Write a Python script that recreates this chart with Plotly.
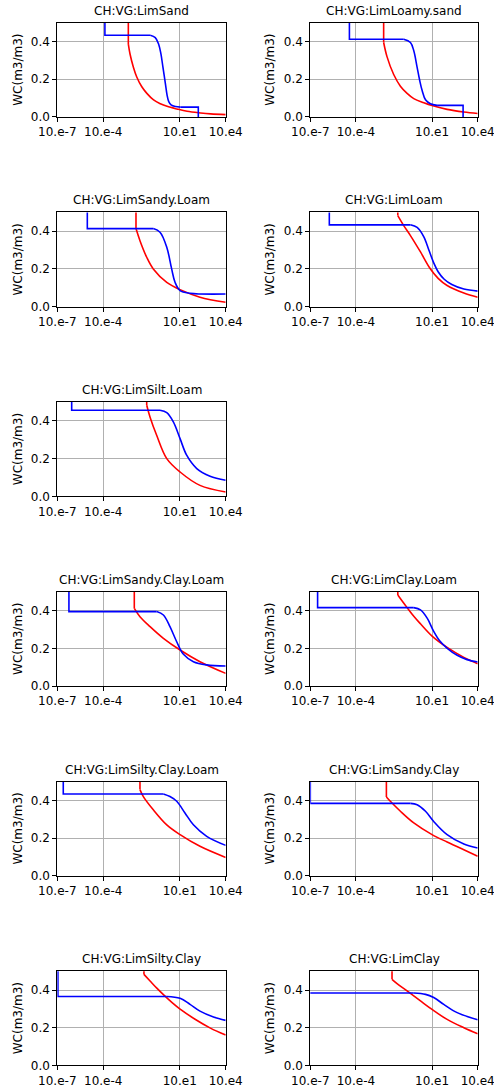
import plotly.graph_objects as go

# ---------------- data ----------------
titles = ["CH:VG:LimSand", "CH:VG:LimLoamy.sand", "CH:VG:LimSandy.Loam", "CH:VG:LimLoam",
          "CH:VG:LimSilt.Loam", "CH:VG:LimSandy.Clay.Loam", "CH:VG:LimClay.Loam",
          "CH:VG:LimSilty.Clay.Loam", "CH:VG:LimSandy.Clay", "CH:VG:LimSilty.Clay", "CH:VG:LimClay"]

x_tick_exp = [-7, -4, 1, 4]
x_tick_text = ["10.e-7", "10.e-4", "10.e1", "10.e4"]
y_tick_vals = [0.0, 0.2, 0.4]
y_tick_text = ["0.0", "0.2", "0.4"]

# value where the vertical start lines come from (above the visible range)
off_top = 0.6

# blue curve: vertical step (log10 h), saturated level, then smooth part
blue_step = [-3.89, -4.43, -5.04, -5.75, -6.06, -6.24, -6.52, -6.61, -7.0, -6.96, -7.5]
blue_sat = [0.433, 0.412, 0.414, 0.434, 0.457, 0.395, 0.416, 0.434, 0.384, 0.366, 0.384]
blue_e = [
    [-0.93, -0.6, -0.38, -0.23, -0.1, 0.06, 0.17, 0.28, 0.43, 0.71, 1.04],
    [-0.86, -0.42, -0.2, 0.02, 0.19, 0.35, 0.57, 0.89, 1.33],
    [-0.73, -0.29, 0.15, 0.47, 0.69, 1.02, 1.67, 4.0],
    [-0.42, 0.02, 0.46, 0.79, 1.11, 1.4, 1.8, 2.3, 3.09, 4.0],
    [-0.29, 0.15, 0.58, 1.02, 1.45, 2.11, 2.98, 4.0],
    [-0.51, -0.07, 0.36, 0.8, 1.24, 1.89, 2.76, 4.0],
    [-0.2, 0.24, 0.68, 1.11, 1.5, 2.0, 2.65, 3.3, 4.0],
    [-0.07, 0.36, 0.8, 1.34, 1.89, 2.76, 4.0],
    [-0.42, 0.02, 0.57, 1.11, 1.99, 3.09, 4.0],
    [0.15, 1.02, 1.67, 2.32, 3.2, 4.0],
    [-0.2, 0.57, 1.11, 1.77, 2.65, 4.0],
]
blue_wc = [
    [0.433, 0.421, 0.386, 0.334, 0.264, 0.177, 0.116, 0.081, 0.064, 0.055, 0.052],
    [0.412, 0.395, 0.351, 0.263, 0.193, 0.14, 0.091, 0.07, 0.061],
    [0.414, 0.395, 0.315, 0.2, 0.129, 0.085, 0.071, 0.067],
    [0.434, 0.42, 0.37, 0.3, 0.232, 0.185, 0.145, 0.117, 0.093, 0.082],
    [0.457, 0.444, 0.395, 0.306, 0.218, 0.147, 0.106, 0.085],
    [0.395, 0.377, 0.315, 0.235, 0.168, 0.129, 0.112, 0.106],
    [0.416, 0.404, 0.36, 0.29, 0.24, 0.2, 0.163, 0.14, 0.127],
    [0.434, 0.42, 0.395, 0.333, 0.27, 0.209, 0.161],
    [0.384, 0.377, 0.342, 0.288, 0.218, 0.168, 0.147],
    [0.366, 0.356, 0.324, 0.288, 0.257, 0.239],
    [0.384, 0.377, 0.36, 0.324, 0.28, 0.242],
]
blue_tail_e = [[1.04, 2.21, 2.21], [1.33, 3.04, 3.04], None, None, None, None, None, None, None, None, None]
blue_tail_wc = [[0.052, 0.052, 0.0], [0.061, 0.061, 0.0], None, None, None, None, None, None, None, None, None]

# red curve: vertical step (log10 h), then smooth part
red_step = [-2.36, -2.18, -1.86, -1.25, -1.16, -1.97, -1.25, -1.6, -2.0, -1.34, -1.63]
red_e = [
    [-2.36, -2.25, -2.03, -1.81, -1.48, -1.15, -0.71, -0.27, 0.17, 0.82, 1.48, 2.36, 3.02, 4.0],
    [-2.18, -1.96, -1.52, -1.08, -0.64, -0.2, 0.46, 1.0, 1.99, 3.09, 4.0],
    [-1.86, -1.6, -1.16, -0.73, 0.15, 1.02, 2.32, 4.0],
    [-1.25, -0.86, -0.42, 0.24, 0.85, 1.4, 1.99, 3.09, 4.0],
    [-1.16, -0.94, -0.51, 0.15, 1.02, 2.32, 4.0],
    [-1.97, -1.6, -0.94, -0.07, 1.02, 2.32, 4.0],
    [-1.25, -1.0, -0.64, -0.2, 0.24, 1.0, 1.99, 3.09, 4.0],
    [-1.6, -1.38, -0.73, 0.15, 1.02, 2.32, 4.0],
    [-2.0, -1.74, -1.08, -0.2, 1.0, 1.99, 3.09, 4.0],
    [-1.34, -0.94, -0.5, 0.0, 0.5, 1.0, 2.0, 3.0, 4.0],
    [-1.63, -1.3, -0.64, 0.24, 1.0, 1.99, 3.09, 4.0],
]
red_wc = [
    [0.386, 0.334, 0.264, 0.212, 0.16, 0.125, 0.09, 0.07, 0.056, 0.042, 0.03, 0.021, 0.016, 0.012],
    [0.395, 0.32, 0.225, 0.163, 0.125, 0.097, 0.075, 0.06, 0.04, 0.026, 0.018],
    [0.414, 0.35, 0.262, 0.2, 0.129, 0.09, 0.05, 0.023],
    [0.483, 0.43, 0.377, 0.29, 0.205, 0.15, 0.112, 0.072, 0.05],
    [0.483, 0.42, 0.324, 0.2, 0.129, 0.058, 0.023],
    [0.412, 0.368, 0.315, 0.253, 0.191, 0.129, 0.067],
    [0.483, 0.455, 0.416, 0.37, 0.33, 0.265, 0.205, 0.152, 0.118],
    [0.457, 0.42, 0.35, 0.27, 0.218, 0.156, 0.097],
    [0.418, 0.395, 0.342, 0.28, 0.218, 0.179, 0.138, 0.103],
    [0.483, 0.448, 0.41, 0.37, 0.333, 0.30, 0.245, 0.198, 0.161],
    [0.457, 0.434, 0.395, 0.342, 0.297, 0.244, 0.2, 0.168],
]

# ---------------- layout geometry (pixels) ----------------
W, H = 494, 1089
slots = [(0, 0), (0, 1), (1, 0), (1, 1), (2, 0), (3, 0), (3, 1), (4, 0), (4, 1), (5, 0), (5, 1)]
col_x = [(57.3, 225.7), (310.3, 477.7)]
ylab_x = [18, 270]
row_top0, row_pitch, plot_h = 22.7, 189.7, 94.2

FONT = "DejaVu Sans"
fig = go.Figure()
annotations = []
layout = {}


def p10(vals):
    return [10 ** v for v in vals]


for i, (r, c) in enumerate(slots):
    n = "" if i == 0 else str(i + 1)
    xa, ya = "x" + n, "y" + n
    top = row_top0 + r * row_pitch
    bot = top + plot_h
    x0, x1 = col_x[c]
    ydom = [1 - bot / H, 1 - top / H]
    xdom = [x0 / W, x1 / W]

    # red
    fig.add_trace(go.Scatter(x=p10([red_step[i], red_step[i]]), y=[off_top, red_wc[i][0]],
                             xaxis=xa, yaxis=ya, mode="lines",
                             line=dict(color="red", width=1.6), showlegend=False, hoverinfo="skip"))
    fig.add_trace(go.Scatter(x=p10(red_e[i]), y=red_wc[i], xaxis=xa, yaxis=ya, mode="lines",
                             line=dict(color="red", width=1.6, shape="spline", smoothing=1.0),
                             showlegend=False, hoverinfo="skip"))
    # blue
    fig.add_trace(go.Scatter(x=p10([blue_step[i], blue_step[i], blue_e[i][0]]),
                             y=[off_top, blue_sat[i], blue_sat[i]],
                             xaxis=xa, yaxis=ya, mode="lines",
                             line=dict(color="blue", width=1.6), showlegend=False, hoverinfo="skip"))
    fig.add_trace(go.Scatter(x=p10(blue_e[i]), y=blue_wc[i], xaxis=xa, yaxis=ya, mode="lines",
                             line=dict(color="blue", width=1.6, shape="spline", smoothing=1.0),
                             showlegend=False, hoverinfo="skip"))
    if blue_tail_e[i] is not None:
        fig.add_trace(go.Scatter(x=p10(blue_tail_e[i]), y=blue_tail_wc[i], xaxis=xa, yaxis=ya,
                                 mode="lines", line=dict(color="blue", width=1.6),
                                 showlegend=False, hoverinfo="skip"))

    axis_common = dict(showline=True, linecolor="black", linewidth=1, mirror=True,
                       ticks="outside", ticklen=4, tickwidth=1, tickcolor="black",
                       showgrid=True, gridcolor="#b0b0b0", gridwidth=0.8, zeroline=False,
                       automargin=False, ticklabeloverflow="allow",
                       tickfont=dict(family=FONT, size=12, color="black"))
    layout["xaxis" + n] = dict(type="log", range=[-7, 4], domain=xdom, anchor=ya,
                               tickvals=p10(x_tick_exp), ticktext=x_tick_text, **axis_common)
    layout["yaxis" + n] = dict(range=[0, 0.5], domain=ydom, anchor=xa,
                               tickvals=y_tick_vals, ticktext=y_tick_text, **axis_common)

    annotations.append(dict(text=titles[i], x=(xdom[0] + xdom[1]) / 2, y=ydom[1], xref="paper",
                            yref="paper", xanchor="center", yanchor="bottom", yshift=3,
                            showarrow=False, font=dict(family=FONT, size=12, color="black")))
    annotations.append(dict(text="WC(m3/m3)", x=ylab_x[c] / W, y=(ydom[0] + ydom[1]) / 2,
                            xref="paper", yref="paper", xanchor="center", yanchor="middle",
                            textangle=-90, showarrow=False,
                            font=dict(family=FONT, size=12, color="black")))

fig.update_layout(width=W, height=H, margin=dict(l=0, r=0, t=0, b=0, autoexpand=False),
                  paper_bgcolor="white", plot_bgcolor="white", showlegend=False,
                  annotations=annotations, **layout)
fig.write_html("out.html")
